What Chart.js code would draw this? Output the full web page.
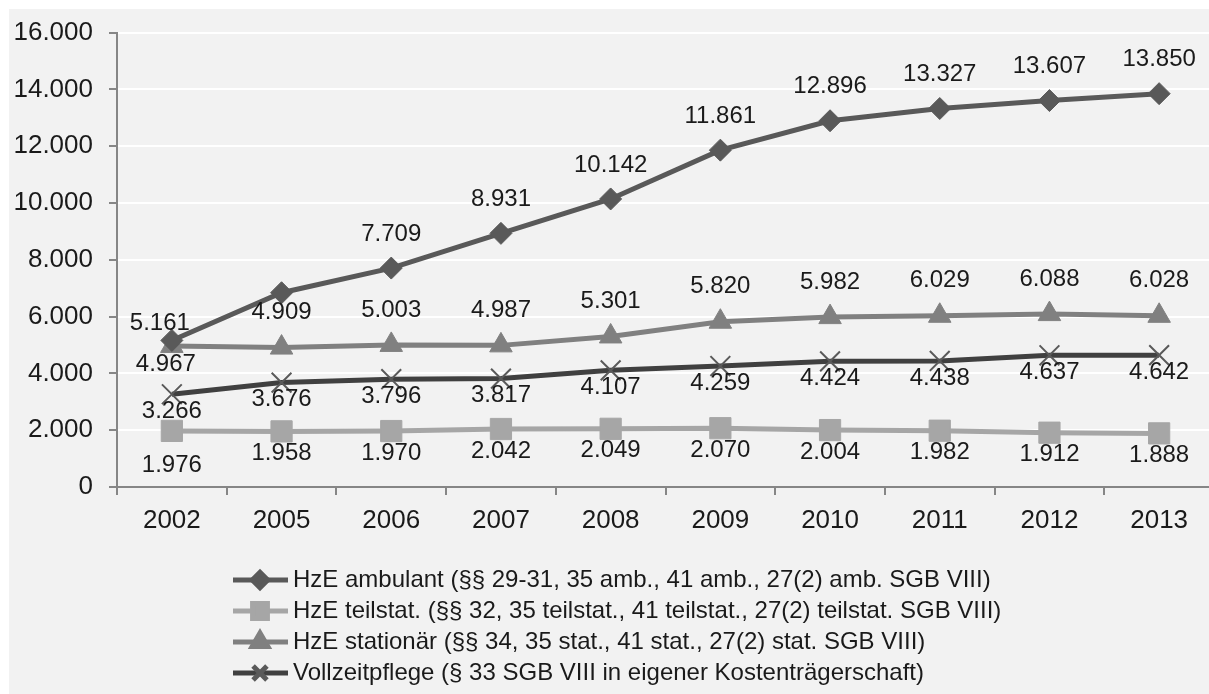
<!DOCTYPE html>
<html>
<head>
<meta charset="utf-8">
<script src="https://cdn.jsdelivr.net/npm/chart.js@4"></script>
<style>
  html, body { margin: 0; padding: 0; background: #fff; overflow: hidden; }
  #wrap { position: absolute; left: 9px; top: 9px; width: 1221px; height: 685px; background: #f2f2f2; overflow: hidden; }
  #chart { position: absolute; left: 0; top: -8px; }
</style>
</head>
<body>
<div id="wrap"><canvas id="chart" width="1221" height="693"></canvas></div>
<script>
/* data */
const years = ['2002', '2005', '2006', '2007', '2008', '2009', '2010', '2011', '2012', '2013'];
const ambulant = [5161, 6840, 7709, 8931, 10142, 11861, 12896, 13327, 13607, 13850];
const teilstat = [1976, 1958, 1970, 2042, 2049, 2070, 2004, 1982, 1912, 1888];
const stationaer = [4967, 4909, 5003, 4987, 5301, 5820, 5982, 6029, 6088, 6028];
const vollzeit = [3266, 3676, 3796, 3817, 4107, 4259, 4424, 4438, 4637, 4642];
const seriesNames = [
    'HzE ambulant (§§ 29-31, 35 amb., 41 amb., 27(2) amb. SGB VIII)',
    'HzE teilstat. (§§ 32, 35 teilstat., 41 teilstat., 27(2) teilstat. SGB VIII)',
    'HzE stationär (§§ 34, 35 stat., 41 stat., 27(2) stat. SGB VIII)',
    'Vollzeitpflege (§ 33 SGB VIII in eigener Kostenträgerschaft)'
];

const FONT = "'Liberation Sans', Arial, sans-serif";
const fmt = v => String(v).replace(/\B(?=(\d{3})+(?!\d))/g, '.');

/* value labels next to each point */
const valueLabels = {
    id: 'valueLabels',
    afterDatasetsDraw(chart) {
        const ctx = chart.ctx;
        ctx.save();
        ctx.font = '24px ' + FONT;
        ctx.fillStyle = '#1a1a1a';
        ctx.textAlign = 'center';
        ctx.textBaseline = 'middle';
        chart.data.datasets.forEach((ds, di) => {
            const meta = chart.getDatasetMeta(di);
            meta.data.forEach((pt, i) => {
                if (ds.hideLabels && ds.hideLabels.includes(i)) return;
                let off = ds.labelOffset;
                if (ds.labelOffsetAt && ds.labelOffsetAt[i] !== undefined) off = ds.labelOffsetAt[i];
                const dx = (ds.labelShiftAt && ds.labelShiftAt[i]) || 0;
                ctx.fillText(fmt(ds.data[i]), pt.x + dx, pt.y + off);
            });
        });
        ctx.restore();
    }
};

/* legend rows with line + marker, left aligned */
const lineLegend = {
    id: 'lineLegend',
    afterDraw(chart) {
        const ctx = chart.ctx;
        ctx.save();
        ctx.font = '24px ' + FONT;
        ctx.textBaseline = 'middle';
        chart.data.datasets.forEach((ds, i) => {
            const y = 579 + i * 31;
            ctx.strokeStyle = ds.borderColor;
            ctx.lineWidth = 5;
            ctx.beginPath();
            ctx.moveTo(224, y);
            ctx.lineTo(279, y);
            ctx.stroke();
            ctx.fillStyle = ds.pointBackgroundColor;
            ctx.strokeStyle = ds.pointBorderColor;
            Chart.helpers.drawPoint(ctx, {
                pointStyle: ds.pointStyle,
                radius: ds.pointRadius * 0.7,
                rotation: 0,
                borderWidth: ds.pointBorderWidth
            }, 251, y);
            ctx.fillStyle = '#1a1a1a';
            ctx.fillText(ds.label, 284, y);
        });
        ctx.restore();
    }
};

new Chart(document.getElementById('chart'), {
    type: 'line',
    data: {
        labels: years,
        datasets: [
            {
                label: seriesNames[0],
                data: ambulant,
                borderColor: '#595959',
                borderWidth: 5,
                pointStyle: 'rectRot',
                pointRadius: 11,
                pointBackgroundColor: '#595959',
                pointBorderColor: '#595959',
                pointBorderWidth: 1,
                labelOffset: -34,
                labelOffsetAt: { 0: -17 },
                labelShiftAt: { 0: -12 },
                hideLabels: [1]
            },
            {
                label: seriesNames[1],
                data: teilstat,
                borderColor: '#a6a6a6',
                borderWidth: 5,
                pointStyle: 'rect',
                pointRadius: 15,
                pointBackgroundColor: '#a6a6a6',
                pointBorderColor: '#a6a6a6',
                pointBorderWidth: 1,
                labelOffset: 22,
                labelOffsetAt: { 0: 34 }
            },
            {
                label: seriesNames[2],
                data: stationaer,
                borderColor: '#808080',
                borderWidth: 5,
                pointStyle: 'triangle',
                pointRadius: 13,
                pointBackgroundColor: '#808080',
                pointBorderColor: '#808080',
                pointBorderWidth: 1,
                labelOffset: -35,
                labelOffsetAt: { 0: 18 },
                labelShiftAt: { 0: -6 }
            },
            {
                label: seriesNames[3],
                data: vollzeit,
                borderColor: '#404040',
                borderWidth: 5,
                pointStyle: 'crossRot',
                pointRadius: 14,
                pointBackgroundColor: '#5a5a5a',
                pointBorderColor: '#5a5a5a',
                pointBorderWidth: 2,
                labelOffset: 17
            }
        ]
    },
    options: {
        responsive: false,
        animation: false,
        layout: { padding: { top: 9, right: 5, bottom: 157, left: 0 } },
        scales: {
            x: {
                offset: true,
                grid: { offset: true, drawOnChartArea: false, tickLength: 8, tickColor: '#868686', lineWidth: 2 },
                border: { color: '#868686', width: 2 },
                ticks: { color: '#1a1a1a', padding: 10, font: { family: FONT, size: 26 } },
                afterFit(scale) { scale.height = 50; }
            },
            y: {
                min: 0,
                max: 16000,
                ticks: { stepSize: 2000, color: '#1a1a1a', padding: 16, font: { family: FONT, size: 26 }, callback: v => fmt(v) },
                grid: { color: '#ffffff', lineWidth: 2, tickLength: 8, tickColor: '#868686' },
                border: { color: '#868686', width: 2 },
                afterFit(scale) { scale.width = 108; }
            }
        },
        plugins: {
            legend: { display: false },
            tooltip: { enabled: false }
        }
    },
    plugins: [valueLabels, lineLegend]
});
</script>
</body>
</html>
